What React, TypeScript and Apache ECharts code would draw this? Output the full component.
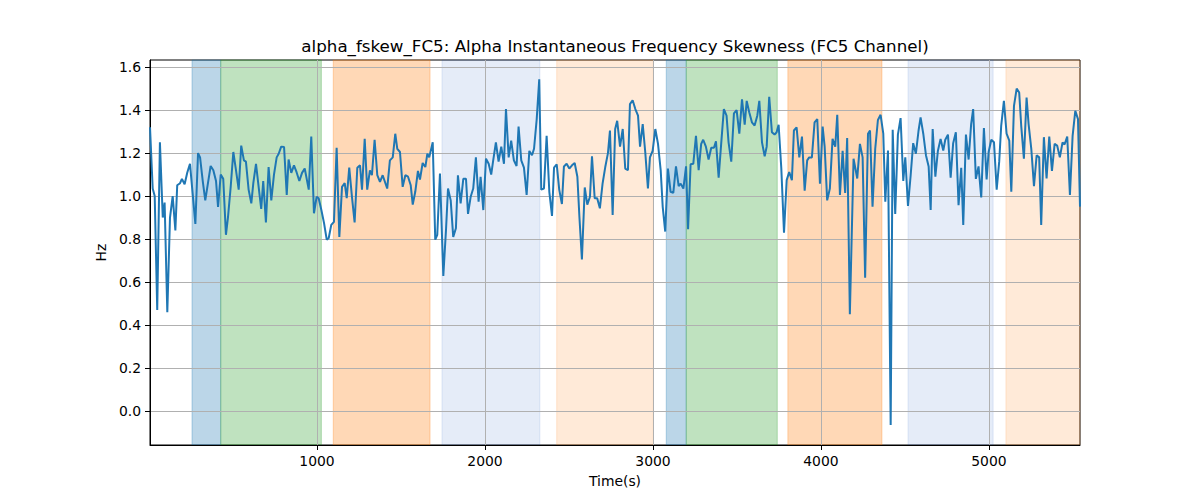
import React, { useEffect, useRef } from "react";
import * as echarts from "echarts";

const TITLE = "alpha_fskew_FC5: Alpha Instantaneous Frequency Skewness (FC5 Channel)";
const X_NAME = "Time(s)";
const Y_NAME = "Hz";
const X_TICKS = [1000, 2000, 3000, 4000, 5000];
const Y_TICKS = [0, 0.2, 0.4, 0.6, 0.8, 1.0, 1.2, 1.4, 1.6];
const X_MIN = 6;
const X_MAX = 5542;
const Y_MIN = -0.158;
const Y_MAX = 1.633;

// shaded intervals (seconds)
const BAND_START = [256, 427, 1097, 1744, 2427, 3079, 3198, 3803, 4518, 5101];
const BAND_END = [427, 1026, 1673, 2327, 3002, 3198, 3740, 4363, 5025, 5542];
const BAND_KIND = ["blue", "green", "orange", "lightblue", "lightorange", "blue", "green", "orange", "lightblue", "lightorange"];
const BAND_COLOR: Record<string, string> = {
  blue: "rgba(31,119,180,0.3)",
  green: "rgba(44,160,44,0.3)",
  orange: "rgba(255,127,14,0.3)",
  lightblue: "rgba(40,100,200,0.12)",
  lightorange: "rgba(255,127,14,0.16)",
};

// [time (s), skewness (Hz)]
const FSKEW: [number, number][] = [
  [6, 1.32], [22, 1.035], [34, 1.0], [49, 0.47], [65, 1.25], [82, 0.9], [93, 0.97], [109, 0.46], [125, 0.9], [141, 1.0],
  [157, 0.84], [168, 1.05], [185, 1.06], [196, 1.08], [212, 1.055], [228, 1.11], [244, 1.15], [260, 1.01], [276, 0.87], [292, 1.2],
  [304, 1.18], [320, 1.07], [335, 0.98], [351, 1.06], [367, 1.14], [383, 1.12], [399, 1.07], [411, 0.95], [427, 1.1], [442, 1.08],
  [458, 0.82], [470, 0.9], [486, 1.04], [502, 1.205], [518, 1.12], [534, 1.03], [549, 1.235], [565, 1.166], [577, 1.16], [593, 1.03],
  [609, 0.966], [621, 1.06], [637, 1.15], [653, 1.04], [668, 0.94], [680, 1.07], [696, 0.877], [712, 1.135], [728, 0.98], [744, 1.1],
  [760, 1.18], [772, 1.197], [787, 1.23], [804, 1.228], [820, 1.005], [831, 1.17], [847, 1.108], [863, 1.143], [879, 1.11], [895, 1.07],
  [911, 1.108], [927, 1.128], [951, 1.03], [966, 1.277], [982, 0.92], [998, 0.997], [1010, 0.99], [1026, 0.935], [1042, 0.874], [1058, 0.797],
  [1070, 0.805], [1085, 0.866], [1101, 0.88], [1117, 1.225], [1133, 0.81], [1149, 1.043], [1165, 1.06], [1177, 0.99], [1192, 1.132], [1208, 0.997],
  [1224, 0.877], [1240, 1.132], [1256, 1.143], [1268, 1.03], [1284, 1.266], [1299, 1.03], [1315, 1.12], [1327, 1.097], [1343, 1.262], [1359, 1.097],
  [1375, 1.066], [1391, 1.097], [1418, 1.035], [1434, 1.166], [1451, 1.18], [1466, 1.29], [1478, 1.22], [1494, 1.205], [1510, 1.043], [1526, 1.097],
  [1542, 1.09], [1558, 1.05], [1570, 0.96], [1585, 1.02], [1601, 1.117], [1613, 1.077], [1629, 1.154], [1645, 1.135], [1657, 1.197], [1668, 1.18],
  [1689, 1.25], [1704, 0.797], [1716, 0.82], [1732, 1.105], [1752, 0.628], [1768, 0.843], [1780, 1.035], [1796, 0.98], [1811, 0.81], [1827, 0.85],
  [1839, 1.097], [1855, 0.966], [1871, 1.08], [1887, 1.08], [1899, 0.917], [1915, 0.997], [1930, 1.035], [1946, 1.18], [1962, 0.974], [1974, 1.09],
  [1990, 0.935], [2006, 1.174], [2022, 1.15], [2037, 1.1], [2049, 1.166], [2065, 1.25], [2081, 1.16], [2097, 1.23], [2113, 1.15], [2125, 1.405],
  [2141, 1.18], [2156, 1.258], [2172, 1.166], [2188, 1.14], [2200, 1.323], [2216, 1.166], [2232, 1.132], [2248, 1.005], [2264, 1.21], [2280, 1.19],
  [2292, 1.22], [2308, 1.358], [2323, 1.543], [2335, 1.03], [2351, 1.035], [2367, 1.28], [2383, 1.02], [2399, 0.908], [2411, 1.132], [2427, 1.148],
  [2442, 1.03], [2458, 0.963], [2470, 1.138], [2486, 1.15], [2502, 1.128], [2518, 1.143], [2534, 1.154], [2550, 1.09], [2562, 0.905], [2577, 0.705],
  [2594, 1.04], [2609, 0.96], [2625, 0.997], [2637, 1.185], [2653, 0.99], [2668, 0.99], [2684, 0.943], [2700, 1.058], [2716, 1.135], [2732, 1.2],
  [2744, 1.305], [2760, 0.912], [2775, 1.312], [2787, 1.35], [2804, 1.23], [2820, 1.312], [2835, 1.128], [2851, 1.12], [2863, 1.428], [2879, 1.446],
  [2895, 1.405], [2911, 1.374], [2923, 1.23], [2939, 1.335], [2954, 1.205], [2970, 1.035], [2982, 1.18], [2998, 1.21], [3014, 1.312], [3030, 1.243],
  [3046, 1.12], [3058, 0.95], [3073, 0.835], [3089, 1.128], [3105, 1.02], [3121, 1.015], [3137, 1.138], [3153, 1.046], [3165, 1.058], [3181, 1.035],
  [3197, 1.138], [3209, 0.846], [3224, 1.148], [3240, 1.15], [3256, 1.28], [3272, 1.12], [3287, 1.243], [3299, 1.262], [3315, 1.23], [3331, 1.17],
  [3347, 1.225], [3363, 1.225], [3375, 1.255], [3391, 1.086], [3406, 1.243], [3422, 1.405], [3438, 1.374], [3450, 1.25], [3466, 1.16], [3482, 1.385],
  [3498, 1.4], [3514, 1.29], [3530, 1.45], [3546, 1.332], [3558, 1.443], [3573, 1.39], [3589, 1.343], [3605, 1.328], [3621, 1.374], [3633, 1.443],
  [3649, 1.25], [3665, 1.185], [3677, 1.23], [3692, 1.462], [3708, 1.297], [3724, 1.286], [3736, 1.297], [3748, 1.332], [3764, 1.128], [3780, 0.83],
  [3796, 1.074], [3811, 1.112], [3827, 1.074], [3839, 1.305], [3855, 1.32], [3871, 1.18], [3887, 1.277], [3903, 1.025], [3918, 1.166], [3930, 1.18],
  [3946, 1.18], [3962, 1.343], [3978, 1.358], [3994, 1.058], [4010, 1.323], [4022, 1.23], [4037, 0.98], [4053, 1.035], [4069, 1.266], [4085, 1.23],
  [4097, 1.378], [4113, 1.005], [4129, 1.21], [4144, 1.015], [4156, 1.27], [4172, 0.45], [4194, 1.174], [4216, 1.082], [4232, 1.243], [4248, 1.18],
  [4263, 0.62], [4280, 1.29], [4292, 1.305], [4307, 0.951], [4323, 1.22], [4339, 1.354], [4355, 1.378], [4371, 1.29], [4383, 0.974], [4399, 1.212],
  [4415, -0.065], [4427, 1.308], [4442, 0.917], [4458, 1.286], [4474, 1.363], [4490, 1.07], [4502, 1.18], [4518, 0.954], [4534, 1.097], [4549, 1.246],
  [4565, 1.197], [4581, 1.305], [4593, 1.366], [4609, 1.29], [4625, 1.19], [4641, 1.138], [4653, 0.935], [4665, 1.312], [4681, 1.09], [4696, 1.21],
  [4712, 1.266], [4728, 1.212], [4740, 1.262], [4756, 1.286], [4772, 1.086], [4787, 1.246], [4803, 1.297], [4819, 0.958], [4835, 1.132], [4847, 0.866],
  [4863, 1.286], [4879, 1.17], [4894, 1.335], [4906, 1.405], [4922, 1.08], [4938, 1.138], [4954, 0.994], [4970, 1.317], [4986, 1.077], [4998, 1.205],
  [5014, 1.262], [5030, 1.25], [5046, 1.03], [5061, 1.16], [5073, 1.328], [5089, 1.443], [5105, 1.29], [5121, 1.258], [5133, 1.02], [5149, 1.42],
  [5165, 1.5], [5180, 1.482], [5192, 1.328], [5208, 1.174], [5224, 1.458], [5236, 1.335], [5252, 1.22], [5268, 1.046], [5284, 1.19], [5299, 1.18],
  [5311, 0.866], [5327, 1.274], [5343, 1.082], [5359, 1.277], [5375, 1.117], [5391, 1.243], [5406, 1.235], [5422, 1.18], [5438, 1.25], [5450, 1.24],
  [5466, 1.277], [5482, 1.005], [5498, 1.28], [5514, 1.397], [5530, 1.358], [5542, 0.951],
];

const FONT = "DejaVu Sans";

export default function App() {
  const ref = useRef<HTMLDivElement>(null);
  useEffect(() => {
    if (!ref.current) return;
    const chart = echarts.init(ref.current, null, { renderer: "svg" });
    const bands = BAND_START.map((s, i) => {
      const c = BAND_COLOR[BAND_KIND[i]];
      return [
        { xAxis: s, itemStyle: { color: c, borderColor: c, borderWidth: 1 } },
        { xAxis: BAND_END[i] },
      ];
    });
    chart.setOption({
      animation: false,
      textStyle: { fontFamily: FONT },
      grid: {
        left: 150,
        right: 120,
        top: 60,
        bottom: 55,
        show: true,
        borderColor: "#000",
        borderWidth: 1,
        backgroundColor: "transparent",
      },
      graphic: [
        {
          type: "text",
          x: 615,
          y: 46,
          style: {
            text: TITLE,
            fill: "#000",
            fontSize: 16.7,
            fontFamily: FONT,
            align: "center",
            verticalAlign: "middle",
          },
        },
      ],
      xAxis: {
        type: "value",
        min: X_MIN,
        max: X_MAX,
        splitNumber: 5,
        z: 1.5,
        name: X_NAME,
        nameLocation: "middle",
        nameGap: 29,
        nameTextStyle: { color: "#000", fontSize: 13.9, fontFamily: FONT },
        axisLine: { show: true, onZero: false, lineStyle: { color: "#000", width: 1 } },
        axisTick: { show: true, length: 5, lineStyle: { color: "#000", width: 1 }, customValues: X_TICKS },
        axisLabel: {
          color: "#000",
          fontSize: 13.9,
          fontFamily: FONT,
          margin: 9,
          customValues: X_TICKS,
          formatter: (v: number) => String(Math.round(v)),
        },
        splitLine: { show: true, lineStyle: { color: "#b0b0b0", width: 1 } },
      },
      yAxis: {
        type: "value",
        min: Y_MIN,
        max: Y_MAX,
        splitNumber: 9,
        z: 1.5,
        name: Y_NAME,
        nameLocation: "middle",
        nameGap: 33,
        nameTextStyle: { color: "#000", fontSize: 13.9, fontFamily: FONT },
        axisLine: { show: true, onZero: false, lineStyle: { color: "#000", width: 1 } },
        axisTick: { show: true, length: 5, lineStyle: { color: "#000", width: 1 }, customValues: Y_TICKS },
        axisLabel: {
          color: "#000",
          fontSize: 13.9,
          fontFamily: FONT,
          margin: 9,
          customValues: Y_TICKS,
          formatter: (v: number) => (Math.abs(v) < 1e-9 ? "0.0" : v.toFixed(1)),
        },
        splitLine: { show: true, lineStyle: { color: "#b0b0b0", width: 1 } },
      },
      series: [
        {
          type: "line",
          data: FSKEW,
          showSymbol: false,
          symbol: "none",
          z: 2,
          lineStyle: { color: "#1f77b4", width: 2 },
          markArea: { silent: true, z: 1, data: bands },
        },
      ],
    });
    return () => chart.dispose();
  }, []);
  return (
    <div
      ref={ref}
      style={{ position: "fixed", left: 0, top: 0, width: 1200, height: 500, background: "#fff" }}
    />
  );
}
